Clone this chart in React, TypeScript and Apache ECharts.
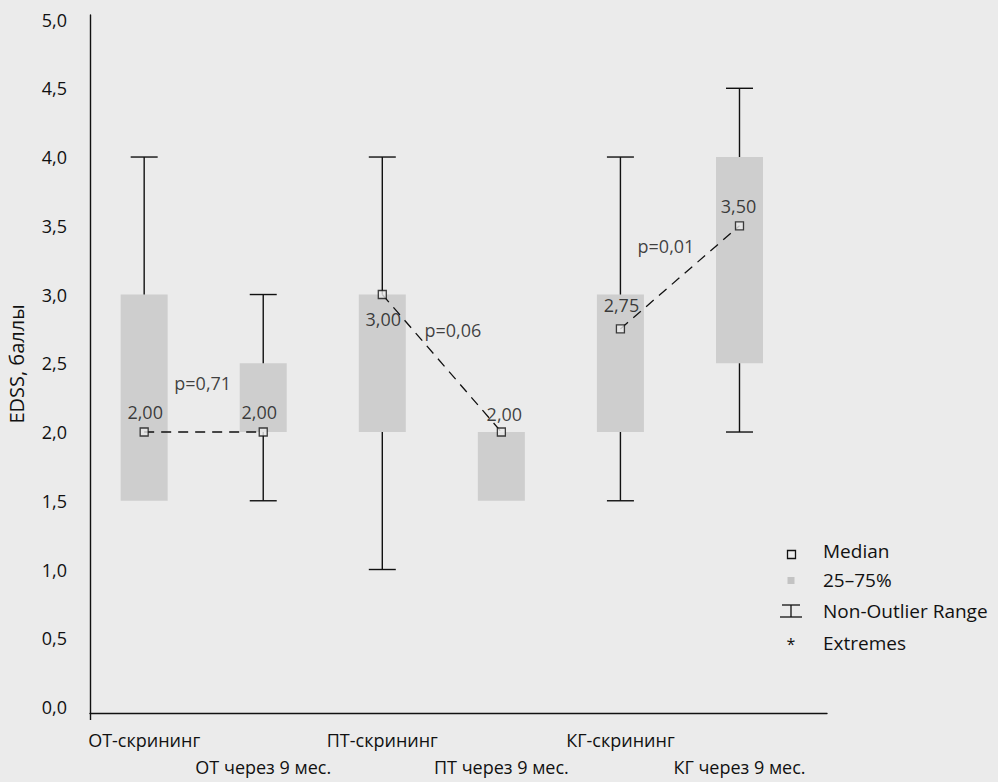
import React, { useEffect, useRef } from 'react';
import * as echarts from 'echarts';

// Groups along the horizontal axis
const categories = [
  'ОТ-скрининг',
  'ОТ через 9 мес.',
  'ПТ-скрининг',
  'ПТ через 9 мес.',
  'КГ-скрининг',
  'КГ через 9 мес.',
];

// EDSS statistics per group
const medians = [2.0, 2.0, 3.0, 2.0, 2.75, 3.5];
const quartile25 = [1.5, 2.0, 2.0, 1.5, 2.0, 2.5];
const quartile75 = [3.0, 2.5, 3.0, 2.0, 3.0, 4.0];
const rangeMin = [1.5, 1.5, 1.0, 1.5, 1.5, 2.0];
const rangeMax = [4.0, 3.0, 4.0, 2.0, 4.0, 4.5];

// Paired comparisons (screening vs. 9 months) and their p-values
const comparisons = [
  [0, 1],
  [2, 3],
  [4, 5],
];
const pValues = ['p=0,71', 'p=0,06', 'p=0,01'];

const yTicks = [0, 0.5, 1, 1.5, 2, 2.5, 3, 3.5, 4, 4.5, 5];
const legendItems = ['Median', '25–75%', 'Non-Outlier Range', 'Extremes'];

const INK = '#111111';
const PAPER = '#ebebeb';
const BOX = '#cecece';
const FONT = 'Open Sans';

const X_MIN = -0.455;
const X_MAX = 5.735;

const comma = (v: number, digits: number) => v.toFixed(digits).replace('.', ',');

export default function App() {
  const ref = useRef<HTMLDivElement>(null);

  useEffect(() => {
    if (!ref.current) return;
    const chart = echarts.init(ref.current, undefined, { renderer: 'svg' });

    const medianLabelOffsets = [
      [1, -20],
      [-4, -20],
      [1, 24],
      [3, -18],
      [1, -24],
      [-1, -20],
    ];
    const pLabelOffsets = [
      [-1, -49],
      [11, -33],
      [-14, -31],
    ];

    const textStyle = {
      fontFamily: FONT,
      fontSize: 18,
      color: INK,
      textBorderWidth: 0,
      textBorderColor: 'transparent',
    };

    const boxSeries = {
      type: 'custom',
      name: legendItems[1],
      z: 1,
      data: categories.map((_, i) => [i, quartile25[i], quartile75[i]]),
      encode: { x: 0, y: [1, 2] },
      renderItem: (_params: any, api: any) => {
        const i = api.value(0);
        const low = api.coord([i, api.value(1)]);
        const high = api.coord([i, api.value(2)]);
        const w = 47;
        return {
          type: 'rect',
          shape: { x: low[0] - w / 2, y: high[1], width: w, height: low[1] - high[1] },
          style: { fill: BOX },
        };
      },
    };

    const whiskerSeries = {
      type: 'custom',
      name: legendItems[2],
      z: 2,
      data: categories.map((_, i) => [i, quartile25[i], quartile75[i], rangeMin[i], rangeMax[i]]),
      encode: { x: 0, y: [1, 2, 3, 4] },
      renderItem: (_params: any, api: any) => {
        const i = api.value(0);
        const pQ1 = api.coord([i, api.value(1)]);
        const x = pQ1[0];
        const yQ1 = pQ1[1];
        const yQ3 = api.coord([i, api.value(2)])[1];
        const yLo = api.coord([i, api.value(3)])[1];
        const yHi = api.coord([i, api.value(4)])[1];
        const cap = 27;
        const stroke = { stroke: INK, lineWidth: 1.4 };
        const children: any[] = [];
        if (yHi < yQ3 - 0.5) {
          children.push({ type: 'line', shape: { x1: x, y1: yQ3, x2: x, y2: yHi }, style: stroke });
          children.push({ type: 'line', shape: { x1: x - cap / 2, y1: yHi, x2: x + cap / 2, y2: yHi }, style: stroke });
        }
        if (yLo > yQ1 + 0.5) {
          children.push({ type: 'line', shape: { x1: x, y1: yQ1, x2: x, y2: yLo }, style: stroke });
          children.push({ type: 'line', shape: { x1: x - cap / 2, y1: yLo, x2: x + cap / 2, y2: yLo }, style: stroke });
        }
        return { type: 'group', children };
      },
    };

    const dashedSeries = comparisons.map(([a, b]) => ({
      type: 'line',
      z: 3,
      silent: true,
      symbol: 'none',
      data: [
        [a, medians[a]],
        [b, medians[b]],
      ],
      lineStyle: { color: INK, width: 1.3, type: [10, 7] },
    }));

    const medianSeries = {
      type: 'scatter',
      name: legendItems[0],
      z: 4,
      symbol: 'rect',
      symbolSize: 8,
      itemStyle: { color: PAPER, borderColor: INK, borderWidth: 1.3 },
      data: medians.map((m, i) => ({
        value: [i, m],
        label: { offset: medianLabelOffsets[i] },
      })),
      label: {
        show: true,
        position: 'inside',
        formatter: (p: any) => comma(p.value[1], 2),
        ...textStyle,
      },
    };

    const pValueSeries = {
      type: 'scatter',
      z: 5,
      symbolSize: 0,
      silent: true,
      data: comparisons.map(([a, b], k) => ({
        value: [(a + b) / 2, (medians[a] + medians[b]) / 2],
        label: { formatter: pValues[k], offset: pLabelOffsets[k] },
      })),
      label: {
        show: true,
        position: 'inside',
        ...textStyle,
      },
    };

    // Legend drawn in the lower right corner
    const lx = 791;
    const tx = 823;
    const rows = [551, 580, 611, 643];
    const legendText = legendItems.map((name, k) => ({
      type: 'text',
      x: tx,
      y: rows[k],
      style: {
        text: name,
        fill: INK,
        fontFamily: FONT,
        fontSize: 19,
        align: 'left',
        verticalAlign: 'middle',
      },
    }));
    const legendIcons = [
      {
        type: 'rect',
        shape: { x: lx - 3.5, y: rows[0] - 0.5, width: 8, height: 8 },
        style: { fill: PAPER, stroke: INK, lineWidth: 1.3 },
      },
      {
        type: 'rect',
        shape: { x: lx - 3.5, y: rows[1] - 3, width: 7, height: 7 },
        style: { fill: '#c3c3c3' },
      },
      {
        type: 'group',
        children: [
          { type: 'line', shape: { x1: lx - 9, y1: rows[2] - 6, x2: lx + 9, y2: rows[2] - 6 }, style: { stroke: INK, lineWidth: 1.3 } },
          { type: 'line', shape: { x1: lx, y1: rows[2] - 6, x2: lx, y2: rows[2] + 6 }, style: { stroke: INK, lineWidth: 1.3 } },
          { type: 'line', shape: { x1: lx - 11, y1: rows[2] + 6, x2: lx + 11, y2: rows[2] + 6 }, style: { stroke: INK, lineWidth: 1.3 } },
        ],
      },
      {
        type: 'text',
        x: lx,
        y: rows[3] + 1,
        style: { text: '*', fill: INK, fontFamily: FONT, fontSize: 16, align: 'center', verticalAlign: 'middle' },
      },
    ];

    // Category labels alternate between two rows: even groups on the first, odd on the second
    const categoryAxis = (parity: number, margin: number, showLine: boolean) => ({
      type: 'value',
      min: X_MIN,
      max: X_MAX,
      position: 'bottom',
      splitLine: { show: false },
      axisLine: { show: showLine, onZero: false, lineStyle: { color: INK, width: 1.4 } },
      axisTick: { show: showLine, customValues: [X_MIN], length: 7, lineStyle: { color: INK, width: 1.4 } },
      axisLabel: {
        customValues: categories.map((_, i) => i).filter((i) => i % 2 === parity),
        showMinLabel: true,
        showMaxLabel: true,
        hideOverlap: false,
        formatter: (v: number) => categories[Math.round(v)],
        fontFamily: FONT,
        fontSize: 18,
        color: INK,
        lineHeight: 27,
        margin,
      },
    });

    chart.setOption({
      animation: false,
      backgroundColor: 'transparent',
      textStyle: { fontFamily: FONT, color: INK },
      grid: { left: 90, right: 171, top: 15, bottom: 69, containLabel: false, outerBoundsMode: 'none' },
      xAxis: [categoryAxis(0, 13, true), categoryAxis(1, 40, false)],
      yAxis: {
        type: 'value',
        min: -0.0436,
        max: 5.033,
        name: 'EDSS, баллы',
        nameLocation: 'middle',
        nameGap: 64,
        nameTextStyle: { fontFamily: FONT, fontSize: 20, color: INK },
        splitLine: { show: false },
        axisLine: { show: true, onZero: false, lineStyle: { color: INK, width: 1.4 } },
        axisTick: { show: false },
        axisLabel: {
          customValues: yTicks,
          showMinLabel: true,
          showMaxLabel: true,
          formatter: (v: number) => comma(v, 1),
          fontFamily: FONT,
          fontSize: 18,
          color: INK,
          margin: 23,
        },
      },
      graphic: [...legendIcons, ...legendText],
      series: [boxSeries, whiskerSeries, ...dashedSeries, medianSeries, pValueSeries],
    });

    return () => chart.dispose();
  }, []);

  return (
    <div
      style={{
        position: 'fixed',
        left: 0,
        top: 0,
        width: 998,
        height: 782,
        background: PAPER,
      }}
    >
      <div ref={ref} style={{ width: 998, height: 782 }} />
    </div>
  );
}
